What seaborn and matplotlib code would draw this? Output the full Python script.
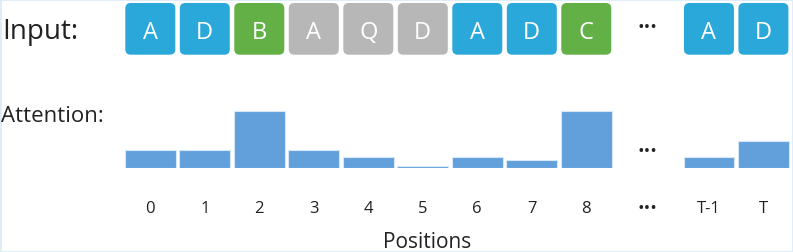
import matplotlib
matplotlib.use("Agg")
import matplotlib.pyplot as plt
import seaborn as sns
import pandas as pd
from matplotlib.patches import FancyBboxPatch, Rectangle

# tokens of the input sequence and their role
tokens = ['A', 'D', 'B', 'A', 'Q', 'D', 'A', 'D', 'C', 'A', 'D']
token_kind = ['key', 'key', 'target', 'noise', 'noise', 'noise',
              'key', 'key', 'target', 'key', 'key']
# slot of each token along the sequence (gap for the "..." part)
positions = [0, 1, 2, 3, 4, 5, 6, 7, 8, 10.25, 11.25]
tick_labels = ['0', '1', '2', '3', '4', '5', '6', '7', '8', 'T-1', 'T']
attention = [0.16, 0.16, 0.50, 0.16, 0.10, 0.018, 0.10, 0.07, 0.50, 0.10, 0.24]
gap_position = 9.12
gap_text = '•••'

kind_colors = {'key': '#2BA8DA', 'target': '#62B046', 'noise': '#B7B7B7'}
bar_color = '#62A0DB'

sns.set_theme(style='white')
plt.rcParams['font.family'] = ['Open Sans', 'DejaVu Sans']

W, H = 793, 253
slot_px = 54.5
x0_px = 150.3
xlim = (-x0_px / slot_px, (W - x0_px) / slot_px)

fig = plt.figure(figsize=(W / 100, H / 100), dpi=100)

# bar axes: baseline at 83.7 px from bottom, 114 px per unit of attention
base_px = 83.7
unit_px = 114.0
ytop = 0.6
ax = fig.add_axes([0, base_px / H, 1, ytop * unit_px / H])
df = pd.DataFrame({'pos': positions, 'att': attention})
sns.barplot(data=df, x='pos', y='att', native_scale=True, width=0.93,
            color=bar_color, saturation=1, edgecolor='#d6e7f7', linewidth=0.8, ax=ax)
ax.set_xlim(*xlim)
ax.set_ylim(0, ytop)
for s in ax.spines.values():
    s.set_visible(False)
ax.set_yticks([])
ax.set_ylabel('')
ax.set_xticks(positions + [gap_position], tick_labels + [gap_text])
ax.tick_params(axis='x', length=0, pad=23, labelsize=12, colors='#222222')
ax.get_xticklabels()[-1].set_fontsize(12.5)
ax.set_xlabel('Positions', fontsize=15, color='#222222', va='baseline')
ax.xaxis.set_label_coords(427 / W, (5 - base_px) / (ytop * unit_px))
ax.set_facecolor('none')

# overlay axes in slot units (equal aspect) for the token boxes and texts
top = fig.add_axes([0, 0, 1, 1], zorder=-1)
top.set_xlim(*xlim)
top.set_ylim(0, H / slot_px)
top.axis('off')

box_w = 50 / slot_px
box_h = 51.7 / slot_px
box_y0 = (H - 55.7) / slot_px
for p, t, k in zip(positions, tokens, token_kind):
    top.add_patch(FancyBboxPatch((p - box_w / 2, box_y0), box_w, box_h,
                                 boxstyle='round,pad=0,rounding_size=0.1',
                                 facecolor=kind_colors[k], edgecolor='none'))
    top.text(p, (H - 39.3) / slot_px, t, ha='center', va='baseline',
             fontsize=17, color='white')

top.text(gap_position, (H - 28) / slot_px, gap_text, ha='center', va='center',
         fontsize=12.5, color='#222222')
top.text(gap_position, (H - 152.3) / slot_px, gap_text, ha='center', va='center',
         fontsize=12.5, color='#222222')

fig.text(2 / W, (H - 39.3) / H, 'Input:', ha='left', va='baseline',
         fontsize=20, color='#222222')
fig.text(1 / W, (H - 122.3) / H, 'Attention:', ha='left', va='baseline',
         fontsize=16, color='#222222')

fig.add_artist(Rectangle((0, 0), 1, 1, transform=fig.transFigure, fill=False,
                         edgecolor='#dcedf8', linewidth=2))

fig.savefig('out.png', dpi=100)
